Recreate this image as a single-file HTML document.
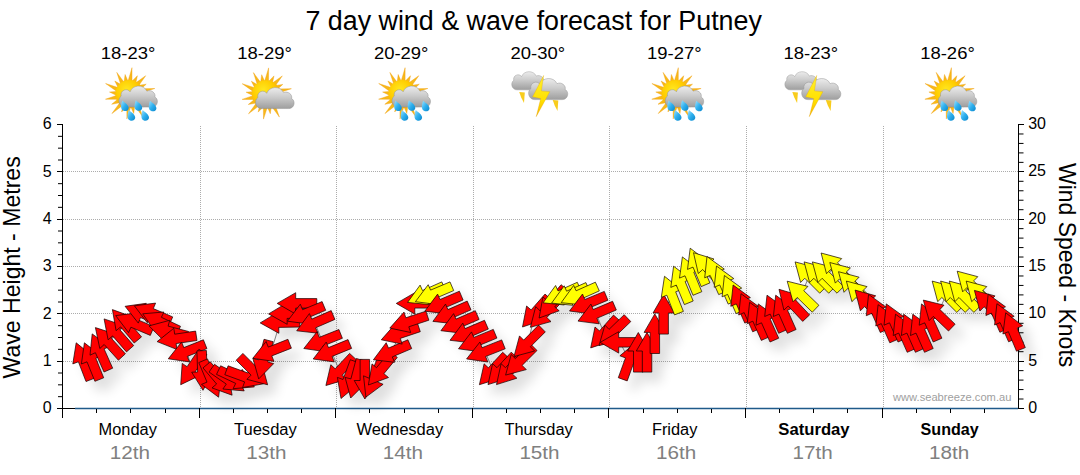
<!DOCTYPE html>
<html><head><meta charset="utf-8"><title>7 day wind &amp; wave forecast for Putney</title>
<style>
html,body{margin:0;padding:0;background:#fff;}
body{width:1080px;height:475px;overflow:hidden;font-family:"Liberation Sans",sans-serif;}
svg{display:block;}
text{font-family:"Liberation Sans",sans-serif;}
</style></head><body>
<svg width="1080" height="475" viewBox="0 0 1080 475">
<defs>
<filter id="sh" x="-5%" y="-20%" width="110%" height="150%">
<feGaussianBlur stdDeviation="6"/>
</filter>
<radialGradient id="sunG" cx="0.4" cy="0.35" r="0.7"><stop offset="0" stop-color="#ffe820"/><stop offset="0.55" stop-color="#ffcc00"/><stop offset="1" stop-color="#f6a010"/></radialGradient>
<linearGradient id="cloudG" x1="0" y1="0" x2="0" y2="1"><stop offset="0" stop-color="#ececec"/><stop offset="0.45" stop-color="#cccccc"/><stop offset="1" stop-color="#9e9e9e"/></linearGradient>
<linearGradient id="dropG" x1="0" y1="0" x2="1" y2="1"><stop offset="0" stop-color="#9fe2ff"/><stop offset="0.5" stop-color="#2fb0ee"/><stop offset="1" stop-color="#0a86cc"/></linearGradient>
<linearGradient id="boltG" x1="0" y1="0" x2="0" y2="1"><stop offset="0" stop-color="#fff030"/><stop offset="0.6" stop-color="#ffe000"/><stop offset="1" stop-color="#f8b400"/></linearGradient>
<g id="sun">
<path fill="#f8b818" stroke="#f0a010" stroke-width="0.4" d="M-1.3,-13.1 L2.6,-26.3 L2.6,-12.9 L2.8,-12.9 L8.0,-18.3 L6.5,-11.5 L6.7,-11.4 L16.3,-18.3 L9.7,-8.9 L9.9,-8.8 L16.8,-9.8 L12.0,-5.5 L12.1,-5.3 L25.4,-5.5 L13.1,-1.5 L13.1,-1.3 L20.4,2.0 L12.9,2.6 L12.9,2.8 L22.0,9.7 L11.5,6.5 L11.4,6.7 L14.6,13.0 L8.9,9.7 L8.8,9.9 L13.4,22.9 L5.5,12.0 L5.3,12.1 L4.3,19.5 L1.5,13.1 L1.3,13.1 L-2.5,24.9 L-2.6,12.9 L-2.8,12.9 L-7.8,17.9 L-6.5,11.5 L-6.7,11.4 L-17.5,19.6 L-9.7,8.9 L-9.9,8.8 L-17.7,10.3 L-12.0,5.5 L-12.1,5.3 L-23.9,5.2 L-13.1,1.5 L-13.1,1.3 L-19.9,-2.0 L-12.9,-2.6 L-12.9,-2.8 L-23.8,-10.5 L-11.5,-6.5 L-11.4,-6.7 L-14.6,-13.0 L-8.9,-9.7 L-8.8,-9.9 L-12.6,-21.6 L-5.5,-12.0 L-5.3,-12.1 L-4.3,-19.5 L-1.5,-13.1 Z"/>
<circle r="14" fill="url(#sunG)"/>
</g>
<g id="cloud">
<path fill="url(#cloudG)" stroke="#909090" stroke-width="0.5" d="M-14,9.6 C-20.5,9.6 -22.5,1 -18,-2 C-19.5,-8.5 -11,-11 -8.5,-6.5 C-6,-14 6,-15 9.5,-7.2 C14,-9.5 19.5,-5 18,-1 C22.5,1 21.5,9.6 15,9.6 Z"/>
</g>
<g id="drop"><path fill="url(#dropG)" d="M-2.9,-4.6 C-0.6,-2.6 3.9,0.2 3.5,3.4 C3.1,6.4 -1.8,6.9 -3.5,4.2 C-4.8,2 -3.9,-1.8 -2.9,-4.6 Z"/></g>
</defs>

<g stroke="#acacac" stroke-width="1" stroke-dasharray="1,1" shape-rendering="crispEdges"><line x1="200.5" y1="126" x2="200.5" y2="408" /><line x1="336.5" y1="126" x2="336.5" y2="408" /><line x1="473.5" y1="126" x2="473.5" y2="408" /><line x1="609.5" y1="126" x2="609.5" y2="408" /><line x1="746.5" y1="126" x2="746.5" y2="408" /><line x1="883.5" y1="126" x2="883.5" y2="408" /><line x1="63" y1="361.5" x2="1018" y2="361.5" /><line x1="63" y1="313.5" x2="1018" y2="313.5" /><line x1="63" y1="266.5" x2="1018" y2="266.5" /><line x1="63" y1="219.5" x2="1018" y2="219.5" /><line x1="63" y1="171.5" x2="1018" y2="171.5" /></g>
<line x1="75" y1="408.5" x2="1018" y2="408.5" stroke="#1f5a8a" stroke-width="1.3"/>
<g stroke="#000" stroke-width="1" shape-rendering="crispEdges"><line x1="62.5" y1="124" x2="62.5" y2="418" /><line x1="1018.5" y1="124" x2="1018.5" y2="409" /><line x1="57" y1="408.5" x2="75" y2="408.5" /><line x1="57" y1="408.5" x2="63" y2="408.5" /><line x1="57" y1="361.5" x2="63" y2="361.5" /><line x1="57" y1="313.5" x2="63" y2="313.5" /><line x1="57" y1="266.5" x2="63" y2="266.5" /><line x1="57" y1="219.5" x2="63" y2="219.5" /><line x1="57" y1="171.5" x2="63" y2="171.5" /><line x1="57" y1="124.5" x2="63" y2="124.5" /><line x1="1018" y1="408.5" x2="1024" y2="408.5" /><line x1="1018" y1="361.5" x2="1024" y2="361.5" /><line x1="1018" y1="313.5" x2="1024" y2="313.5" /><line x1="1018" y1="266.5" x2="1024" y2="266.5" /><line x1="1018" y1="219.5" x2="1024" y2="219.5" /><line x1="1018" y1="171.5" x2="1024" y2="171.5" /><line x1="1018" y1="124.5" x2="1024" y2="124.5" /><line x1="62.5" y1="408" x2="62.5" y2="418" /><line x1="96.5" y1="409" x2="96.5" y2="413" /><line x1="130.5" y1="409" x2="130.5" y2="413" /><line x1="165.5" y1="409" x2="165.5" y2="413" /><line x1="199.5" y1="408" x2="199.5" y2="418" /><line x1="233.5" y1="409" x2="233.5" y2="413" /><line x1="267.5" y1="409" x2="267.5" y2="413" /><line x1="301.5" y1="409" x2="301.5" y2="413" /><line x1="335.5" y1="408" x2="335.5" y2="418" /><line x1="369.5" y1="409" x2="369.5" y2="413" /><line x1="404.5" y1="409" x2="404.5" y2="413" /><line x1="438.5" y1="409" x2="438.5" y2="413" /><line x1="472.5" y1="408" x2="472.5" y2="418" /><line x1="506.5" y1="409" x2="506.5" y2="413" /><line x1="540.5" y1="409" x2="540.5" y2="413" /><line x1="574.5" y1="409" x2="574.5" y2="413" /><line x1="608.5" y1="408" x2="608.5" y2="418" /><line x1="643.5" y1="409" x2="643.5" y2="413" /><line x1="677.5" y1="409" x2="677.5" y2="413" /><line x1="711.5" y1="409" x2="711.5" y2="413" /><line x1="745.5" y1="408" x2="745.5" y2="418" /><line x1="779.5" y1="409" x2="779.5" y2="413" /><line x1="813.5" y1="409" x2="813.5" y2="413" /><line x1="847.5" y1="409" x2="847.5" y2="413" /><line x1="882.5" y1="408" x2="882.5" y2="418" /><line x1="916.5" y1="409" x2="916.5" y2="413" /><line x1="950.5" y1="409" x2="950.5" y2="413" /><line x1="984.5" y1="409" x2="984.5" y2="413" /></g>
<g stroke="#000" stroke-width="1"><line x1="58" y1="396.67" x2="62" y2="396.67" /><line x1="58" y1="384.83" x2="62" y2="384.83" /><line x1="58" y1="373.00" x2="62" y2="373.00" /><line x1="58" y1="349.33" x2="62" y2="349.33" /><line x1="58" y1="337.50" x2="62" y2="337.50" /><line x1="58" y1="325.67" x2="62" y2="325.67" /><line x1="58" y1="302.00" x2="62" y2="302.00" /><line x1="58" y1="290.17" x2="62" y2="290.17" /><line x1="58" y1="278.33" x2="62" y2="278.33" /><line x1="58" y1="254.67" x2="62" y2="254.67" /><line x1="58" y1="242.83" x2="62" y2="242.83" /><line x1="58" y1="231.00" x2="62" y2="231.00" /><line x1="58" y1="207.33" x2="62" y2="207.33" /><line x1="58" y1="195.50" x2="62" y2="195.50" /><line x1="58" y1="183.67" x2="62" y2="183.67" /><line x1="58" y1="160.00" x2="62" y2="160.00" /><line x1="58" y1="148.17" x2="62" y2="148.17" /><line x1="58" y1="136.33" x2="62" y2="136.33" /><line x1="1019" y1="399.03" x2="1023.5" y2="399.03" /><line x1="1019" y1="389.57" x2="1023.5" y2="389.57" /><line x1="1019" y1="380.10" x2="1023.5" y2="380.10" /><line x1="1019" y1="370.63" x2="1023.5" y2="370.63" /><line x1="1019" y1="351.70" x2="1023.5" y2="351.70" /><line x1="1019" y1="342.23" x2="1023.5" y2="342.23" /><line x1="1019" y1="332.77" x2="1023.5" y2="332.77" /><line x1="1019" y1="323.30" x2="1023.5" y2="323.30" /><line x1="1019" y1="304.37" x2="1023.5" y2="304.37" /><line x1="1019" y1="294.90" x2="1023.5" y2="294.90" /><line x1="1019" y1="285.43" x2="1023.5" y2="285.43" /><line x1="1019" y1="275.97" x2="1023.5" y2="275.97" /><line x1="1019" y1="257.03" x2="1023.5" y2="257.03" /><line x1="1019" y1="247.57" x2="1023.5" y2="247.57" /><line x1="1019" y1="238.10" x2="1023.5" y2="238.10" /><line x1="1019" y1="228.63" x2="1023.5" y2="228.63" /><line x1="1019" y1="209.70" x2="1023.5" y2="209.70" /><line x1="1019" y1="200.23" x2="1023.5" y2="200.23" /><line x1="1019" y1="190.77" x2="1023.5" y2="190.77" /><line x1="1019" y1="181.30" x2="1023.5" y2="181.30" /><line x1="1019" y1="162.37" x2="1023.5" y2="162.37" /><line x1="1019" y1="152.90" x2="1023.5" y2="152.90" /><line x1="1019" y1="143.43" x2="1023.5" y2="143.43" /><line x1="1019" y1="133.97" x2="1023.5" y2="133.97" /></g>
<g fill="#000" opacity="0.125" filter="url(#sh)"><polygon points="86.2,352.8 102.8,366.3 97.3,368.4 104.8,388.1 96.0,391.5 88.4,371.8 82.8,373.9"/><polygon points="94.4,352.8 111.3,366.0 105.8,368.2 113.7,387.8 104.9,391.3 97.0,371.8 91.4,374.0"/><polygon points="102.2,343.9 119.5,356.5 114.1,358.9 122.7,378.2 114.0,382.0 105.4,362.7 100.0,365.2"/><polygon points="105.4,337.6 125.7,344.2 121.3,348.2 135.4,363.8 128.4,370.2 114.2,354.5 109.8,358.5"/><polygon points="114.1,328.9 134.3,335.8 129.8,339.7 143.7,355.6 136.5,361.9 122.6,345.9 118.1,349.8"/><polygon points="122.4,319.6 142.5,326.9 137.9,330.8 151.5,346.9 144.2,353.0 130.6,336.9 126.1,340.7"/><polygon points="125.7,325.6 146.9,322.9 144.6,328.4 164.0,336.7 160.3,345.4 140.9,337.2 138.6,342.6"/><polygon points="135.1,316.3 156.3,313.3 154.1,318.8 173.6,326.7 170.1,335.5 150.5,327.6 148.3,333.1"/><polygon points="144.4,315.8 165.6,313.1 163.3,318.6 182.7,326.9 179.0,335.6 159.6,327.4 157.3,332.8"/><polygon points="152.7,323.8 173.9,322.0 171.4,327.3 190.5,336.3 186.5,344.9 167.4,336.0 164.9,341.3"/><polygon points="159.0,335.9 179.7,330.3 178.1,336.1 198.5,341.5 196.0,350.7 175.7,345.3 174.1,351.0"/><polygon points="167.1,351.6 183.8,338.3 184.7,344.2 205.6,341.1 207.0,350.5 186.1,353.6 187.0,359.5"/><polygon points="178.3,368.8 191.6,352.0 193.8,357.6 213.4,349.8 216.9,358.6 197.3,366.4 199.5,371.9"/><polygon points="190.7,394.7 192.2,373.4 197.1,376.7 208.9,359.2 216.8,364.5 205.0,382.0 209.9,385.4"/><polygon points="213.0,400.3 201.7,382.2 207.6,382.0 206.9,360.9 216.4,360.5 217.1,381.6 223.1,381.4"/><polygon points="228.6,407.2 211.5,394.4 217.0,392.1 208.8,372.6 217.5,368.9 225.7,388.3 231.2,386.0"/><polygon points="242.1,405.2 222.0,397.9 226.6,394.0 213.0,377.9 220.3,371.8 233.9,387.9 238.4,384.1"/><polygon points="254.2,400.9 232.9,399.0 236.3,394.1 219.0,382.0 224.5,374.3 241.7,386.4 245.2,381.5"/><polygon points="264.4,396.9 243.1,398.7 245.7,393.4 226.5,384.4 230.6,375.8 249.7,384.7 252.2,379.4"/><polygon points="273.6,393.8 252.6,397.5 254.6,391.9 234.8,384.7 238.1,375.8 257.9,383.0 259.9,377.4"/><polygon points="277.6,394.8 256.9,389.3 261.1,385.1 246.2,370.2 252.9,363.4 267.9,378.4 272.1,374.2"/><polygon points="268.7,388.9 262.9,368.3 268.7,369.8 274.0,349.3 283.2,351.7 277.9,372.1 283.7,373.6"/><polygon points="262.8,368.3 276.1,351.5 278.3,357.1 297.9,349.3 301.4,358.2 281.8,365.9 284.0,371.4"/><polygon points="270.2,332.9 288.5,321.9 288.6,327.9 309.7,327.5 309.9,337.0 288.8,337.4 288.9,343.3"/><polygon points="278.6,323.9 296.9,312.9 297.0,318.9 318.1,318.5 318.2,328.0 297.1,328.4 297.2,334.3"/><polygon points="287.2,313.4 305.7,302.7 305.7,308.6 326.8,308.6 326.8,318.1 305.7,318.1 305.7,324.1"/><polygon points="297.4,331.2 310.3,314.2 312.6,319.7 332.1,311.6 335.7,320.3 316.3,328.5 318.6,334.0"/><polygon points="306.7,340.8 319.4,323.6 321.8,329.1 341.2,320.6 344.9,329.4 325.6,337.8 328.0,343.2"/><polygon points="313.8,358.5 327.1,341.7 329.3,347.3 348.9,339.5 352.4,348.3 332.8,356.1 335.0,361.6"/><polygon points="323.2,369.0 336.2,352.1 338.5,357.6 358.0,349.6 361.6,358.4 342.1,366.4 344.3,371.9"/><polygon points="335.9,395.5 340.8,374.7 345.2,378.8 359.6,363.4 366.6,369.9 352.1,385.3 356.4,389.4"/><polygon points="351.0,408.5 347.4,387.4 353.0,389.5 360.3,369.7 369.2,373.0 361.9,392.8 367.4,394.8"/><polygon points="360.7,408.0 355.1,387.4 360.9,388.9 366.3,368.5 375.5,371.0 370.1,391.4 375.8,392.9"/><polygon points="374.9,409.0 364.2,390.5 370.1,390.5 370.1,369.4 379.6,369.4 379.6,390.5 385.6,390.5"/><polygon points="375.9,407.1 373.5,385.8 378.9,388.2 387.3,368.8 396.0,372.6 387.6,392.0 393.1,394.3"/><polygon points="378.4,395.0 382.0,373.9 386.5,377.7 400.0,361.4 407.3,367.4 393.9,383.7 398.5,387.5"/><polygon points="383.4,369.8 396.2,352.7 398.5,358.1 417.9,349.8 421.7,358.6 402.3,366.9 404.6,372.3"/><polygon points="391.3,349.8 405.4,333.8 407.3,339.4 427.3,332.7 430.3,341.7 410.3,348.4 412.2,354.1"/><polygon points="399.8,338.1 414.0,322.1 415.8,327.8 435.9,321.2 438.9,330.2 418.8,336.8 420.7,342.5"/><polygon points="406.3,313.4 424.8,302.7 424.8,308.6 445.9,308.6 445.9,318.1 424.8,318.1 424.8,324.1"/><polygon points="417.6,312.4 430.1,295.1 432.5,300.5 451.8,291.9 455.7,300.6 436.4,309.2 438.8,314.6"/><polygon points="425.4,311.7 438.2,294.7 440.6,300.1 460.0,291.9 463.7,300.6 444.3,308.9 446.6,314.4"/><polygon points="434.8,321.2 447.6,304.1 450.0,309.5 469.4,301.2 473.1,310.0 453.7,318.3 456.1,323.7"/><polygon points="442.9,331.4 455.5,314.1 457.9,319.6 477.2,311.1 481.0,319.8 461.7,328.3 464.1,333.7"/><polygon points="450.9,340.7 463.6,323.6 466.0,329.1 485.3,320.7 489.1,329.4 469.7,337.8 472.1,343.2"/><polygon points="460.0,350.3 472.8,333.2 475.1,338.6 494.5,330.3 498.3,339.1 478.9,347.4 481.2,352.8"/><polygon points="468.5,358.8 481.5,341.9 483.8,347.4 503.3,339.4 506.9,348.1 487.4,356.2 489.7,361.7"/><polygon points="476.6,368.9 489.9,352.1 492.1,357.7 511.7,349.9 515.2,358.8 495.6,366.5 497.8,372.0"/><polygon points="489.4,394.7 494.1,373.8 498.4,377.8 512.7,362.3 519.7,368.8 505.4,384.3 509.8,388.3"/><polygon points="498.0,394.6 502.6,373.7 507.0,377.7 521.2,362.2 528.2,368.6 514.0,384.2 518.4,388.2"/><polygon points="506.5,394.6 511.1,373.7 515.5,377.7 529.8,362.2 536.8,368.6 522.5,384.2 526.9,388.2"/><polygon points="515.6,385.1 521.2,364.5 525.4,368.7 540.3,353.7 547.0,360.5 532.1,375.4 536.3,379.6"/><polygon points="524.0,366.5 529.5,345.9 533.7,350.1 548.6,335.1 555.3,341.9 540.4,356.8 544.6,361.0"/><polygon points="532.5,337.0 536.6,316.0 541.1,319.9 555.0,304.1 562.1,310.3 548.2,326.2 552.7,330.1"/><polygon points="540.4,337.3 545.7,316.6 550.0,320.8 564.8,305.7 571.5,312.4 556.8,327.5 561.0,331.6"/><polygon points="549.1,328.0 552.9,307.0 557.5,310.8 571.1,294.7 578.4,300.9 564.7,317.0 569.2,320.8"/><polygon points="553.1,312.8 565.6,295.5 568.0,300.9 587.3,292.3 591.2,301.0 571.9,309.6 574.3,315.0"/><polygon points="561.6,313.1 574.2,295.8 576.6,301.2 595.9,292.6 599.7,301.3 580.5,309.9 582.9,315.3"/><polygon points="571.2,312.7 583.7,295.4 586.1,300.8 605.4,292.2 609.3,300.9 590.0,309.5 592.4,314.9"/><polygon points="579.5,321.0 592.5,304.0 594.8,309.5 614.3,301.4 617.9,310.2 598.4,318.3 600.7,323.8"/><polygon points="588.0,331.1 600.9,314.1 603.2,319.5 622.6,311.3 626.3,320.0 606.9,328.3 609.2,333.8"/><polygon points="600.7,357.9 605.0,337.0 609.5,340.9 623.5,325.1 630.6,331.4 616.6,347.2 621.0,351.2"/><polygon points="609.0,355.6 614.9,335.1 619.0,339.4 634.2,324.7 640.8,331.6 625.6,346.2 629.7,350.5"/><polygon points="610.2,352.4 628.7,341.7 628.7,347.6 649.8,347.6 649.8,357.1 628.7,357.1 628.7,363.1"/><polygon points="646.3,352.1 650.0,373.1 644.4,371.1 637.2,390.9 628.3,387.7 635.5,367.9 629.9,365.8"/><polygon points="648.3,342.5 659.0,361.0 653.0,361.0 653.0,382.1 643.5,382.1 643.5,361.0 637.6,361.0"/><polygon points="657.0,342.5 667.7,361.0 661.8,361.0 661.8,382.1 652.3,382.1 652.3,361.0 646.3,361.0"/><polygon points="664.8,323.9 675.5,342.4 669.6,342.4 669.6,363.5 660.1,363.5 660.1,342.4 654.1,342.4"/><polygon points="673.7,304.5 684.4,323.0 678.4,323.0 678.4,344.1 668.9,344.1 668.9,323.0 663.0,323.0"/><polygon points="674.5,286.3 691.2,299.6 685.7,301.8 693.4,321.4 684.5,324.9 676.8,305.2 671.3,307.4"/><polygon points="683.6,276.2 700.6,289.2 695.1,291.5 703.2,311.0 694.4,314.6 686.3,295.1 680.8,297.4"/><polygon points="692.4,266.9 709.3,279.9 703.8,282.2 711.8,301.7 703.0,305.3 695.0,285.8 689.5,288.1"/><polygon points="700.2,258.2 717.2,271.2 711.7,273.5 719.9,292.9 711.2,296.6 703.0,277.1 697.5,279.4"/><polygon points="703.5,262.7 724.0,269.0 719.6,273.0 734.0,288.4 727.0,294.9 712.7,279.5 708.3,283.5"/><polygon points="717.0,266.5 734.3,279.1 728.8,281.5 737.4,300.8 728.7,304.6 720.2,285.4 714.7,287.8"/><polygon points="726.5,276.0 743.8,288.6 738.3,291.0 746.9,310.3 738.2,314.1 729.7,294.9 724.2,297.3"/><polygon points="734.4,285.5 751.7,298.1 746.2,300.5 754.8,319.8 746.1,323.6 737.6,304.4 732.1,306.8"/><polygon points="743.1,295.0 760.4,307.6 754.9,310.0 763.5,329.3 754.8,333.1 746.3,313.9 740.8,316.3"/><polygon points="751.0,303.7 768.3,316.3 762.8,318.7 771.4,338.0 762.7,341.8 754.2,322.6 748.7,325.0"/><polygon points="759.6,312.3 776.9,324.9 771.4,327.3 780.0,346.6 771.3,350.4 762.8,331.2 757.3,333.6"/><polygon points="768.3,313.9 785.6,326.5 780.1,328.9 788.7,348.2 780.0,352.0 771.5,332.8 766.0,335.2"/><polygon points="777.0,305.2 794.3,317.8 788.8,320.2 797.4,339.5 788.7,343.3 780.2,324.1 774.7,326.5"/><polygon points="785.7,305.2 803.0,317.8 797.5,320.2 806.1,339.5 797.4,343.3 788.9,324.1 783.4,326.5"/><polygon points="789.0,299.3 809.4,305.4 805.1,309.5 819.6,324.9 812.7,331.4 798.2,316.0 793.9,320.1"/><polygon points="797.2,291.2 817.9,296.4 813.8,300.7 828.9,315.3 822.3,322.2 807.2,307.5 803.0,311.8"/><polygon points="805.1,271.9 825.7,277.4 821.5,281.6 836.4,296.5 829.7,303.2 814.8,288.3 810.6,292.5"/><polygon points="814.1,271.9 834.7,277.4 830.5,281.6 845.4,296.5 838.7,303.2 823.8,288.3 819.6,292.5"/><polygon points="822.4,271.9 843.0,277.4 838.8,281.6 853.7,296.5 847.0,303.2 832.1,288.3 827.9,292.5"/><polygon points="831.1,263.0 851.7,268.6 847.5,272.8 862.3,287.8 855.6,294.5 840.7,279.5 836.5,283.7"/><polygon points="839.8,272.5 860.4,278.0 856.2,282.2 871.1,297.1 864.4,303.8 849.5,288.9 845.3,293.1"/><polygon points="848.5,281.7 869.1,287.2 864.9,291.4 879.8,306.3 873.1,313.0 858.2,298.1 854.0,302.3"/><polygon points="856.4,291.1 877.0,296.6 872.8,300.8 887.7,315.7 881.0,322.4 866.1,307.5 861.9,311.7"/><polygon points="865.1,300.1 885.7,305.8 881.4,310.0 896.2,325.1 889.4,331.7 874.6,316.6 870.4,320.8"/><polygon points="878.6,304.4 895.9,317.0 890.4,319.4 899.0,338.7 890.3,342.5 881.8,323.3 876.3,325.7"/><polygon points="888.1,314.7 905.4,327.3 899.9,329.7 908.5,349.0 899.8,352.8 891.3,333.6 885.8,336.0"/><polygon points="896.3,313.9 913.6,326.5 908.1,328.9 916.7,348.2 908.0,352.0 899.5,332.8 894.0,335.2"/><polygon points="905.5,324.2 922.8,336.8 917.3,339.2 925.9,358.5 917.2,362.3 908.7,343.1 903.2,345.5"/><polygon points="913.7,324.2 931.0,336.8 925.5,339.2 934.1,358.5 925.4,362.3 916.9,343.1 911.4,345.5"/><polygon points="922.8,324.2 940.1,336.8 934.6,339.2 943.2,358.5 934.5,362.3 926.0,343.1 920.5,345.5"/><polygon points="931.5,313.9 948.8,326.5 943.3,328.9 951.9,348.2 943.2,352.0 934.7,332.8 929.2,335.2"/><polygon points="933.3,310.1 954.0,315.2 949.9,319.5 965.1,334.2 958.5,341.0 943.3,326.4 939.2,330.6"/><polygon points="942.2,291.1 962.8,296.6 958.6,300.8 973.5,315.7 966.8,322.4 951.9,307.5 947.7,311.7"/><polygon points="950.6,291.1 971.2,296.6 967.0,300.8 981.9,315.7 975.2,322.4 960.3,307.5 956.1,311.7"/><polygon points="959.3,291.1 979.9,296.6 975.7,300.8 990.6,315.7 983.9,322.4 969.0,307.5 964.8,311.7"/><polygon points="967.2,281.2 987.8,286.7 983.6,290.9 998.5,305.8 991.8,312.5 976.9,297.6 972.7,301.8"/><polygon points="976.2,291.1 996.8,296.6 992.6,300.8 1007.5,315.7 1000.8,322.4 985.9,307.5 981.7,311.7"/><polygon points="984.4,300.4 1005.0,305.9 1000.8,310.1 1015.7,325.0 1009.0,331.7 994.1,316.8 989.9,321.0"/><polygon points="998.2,304.2 1015.5,316.8 1010.0,319.2 1018.6,338.5 1009.9,342.3 1001.4,323.1 995.9,325.5"/><polygon points="1006.9,313.7 1024.2,326.3 1018.7,328.7 1027.3,348.0 1018.6,351.8 1010.1,332.6 1004.6,335.0"/><polygon points="1015.7,322.8 1032.7,335.8 1027.2,338.1 1035.3,357.6 1026.5,361.2 1018.4,341.7 1012.9,344.0"/></g>
<polyline fill="none" stroke="#808080" stroke-width="1" points="83.3,361.3 91.8,361.2 100.3,352.0 108.6,342.3 117.1,333.8 125.1,324.8 134.0,323.3 143.5,313.7 152.7,313.5 160.6,322.2 168.1,331.0 176.7,338.7 186.7,351.5 191.8,368.3 202.3,370.5 210.9,379.0 219.4,380.0 227.9,379.5 236.5,378.5 245.0,377.0 253.6,370.8 263.6,359.7 271.3,351.0 280.0,322.6 288.4,313.6 297.0,303.4 305.6,313.6 314.9,322.9 322.2,341.2 331.5,351.5 339.5,371.1 347.9,379.9 355.8,378.9 364.9,379.2 373.8,378.9 381.0,369.7 391.6,352.0 400.0,333.5 408.6,321.9 416.1,303.4 425.7,294.3 433.6,294.0 443.0,303.4 451.0,313.4 459.0,322.9 468.2,332.5 476.8,341.3 485.1,351.6 492.8,370.1 501.4,370.0 509.9,370.0 519.6,361.1 528.0,342.5 535.5,312.1 544.3,313.2 551.9,302.9 561.2,294.7 569.7,295.0 579.3,294.6 587.8,303.4 596.2,313.4 603.9,333.1 613.2,331.9 620.0,342.4 629.5,360.7 638.3,352.3 647.0,352.3 654.8,333.7 663.7,314.3 671.7,294.7 681.2,284.5 689.9,275.2 697.9,266.5 707.0,267.2 715.0,274.6 724.5,284.1 732.4,293.6 741.1,303.1 749.0,311.8 757.6,320.4 766.3,322.0 775.0,313.3 783.7,313.3 792.6,303.7 801.4,295.0 809.1,275.9 818.1,275.9 826.4,275.9 835.0,267.1 843.8,276.5 852.5,285.7 860.4,295.1 868.9,304.2 876.6,312.5 886.1,322.8 894.3,322.0 903.5,332.3 911.7,332.3 920.8,332.3 929.5,322.0 937.5,313.8 946.2,295.1 954.6,295.1 963.3,295.1 971.2,285.2 980.2,295.1 988.4,304.4 996.2,312.3 1004.9,321.8 1013.3,331.1"/>
<g stroke="#100000" stroke-width="0.7" stroke-linejoin="miter"><polygon fill="#ff0000" points="76.2,342.8 92.8,356.3 87.3,358.4 94.8,378.1 86.0,381.5 78.4,361.8 72.8,363.9"/><polygon fill="#ff0000" points="84.4,342.8 101.3,356.0 95.8,358.2 103.7,377.8 94.9,381.3 87.0,361.8 81.4,364.0"/><polygon fill="#ff0000" points="92.2,333.9 109.5,346.5 104.1,348.9 112.7,368.2 104.0,372.0 95.4,352.7 90.0,355.2"/><polygon fill="#ff0000" points="95.4,327.6 115.7,334.2 111.3,338.2 125.4,353.8 118.4,360.2 104.2,344.5 99.8,348.5"/><polygon fill="#ff0000" points="104.1,318.9 124.3,325.8 119.8,329.7 133.7,345.6 126.5,351.9 112.6,335.9 108.1,339.8"/><polygon fill="#ff0000" points="112.4,309.6 132.5,316.9 127.9,320.8 141.5,336.9 134.2,343.0 120.6,326.9 116.1,330.7"/><polygon fill="#ff0000" points="115.7,315.6 136.9,312.9 134.6,318.4 154.0,326.7 150.3,335.4 130.9,327.2 128.6,332.6"/><polygon fill="#ff0000" points="125.1,306.3 146.3,303.3 144.1,308.8 163.6,316.7 160.1,325.5 140.5,317.6 138.3,323.1"/><polygon fill="#ff0000" points="134.4,305.8 155.6,303.1 153.3,308.6 172.7,316.9 169.0,325.6 149.6,317.4 147.3,322.8"/><polygon fill="#ff0000" points="142.7,313.8 163.9,312.0 161.4,317.3 180.5,326.3 176.5,334.9 157.4,326.0 154.9,331.3"/><polygon fill="#ff0000" points="149.0,325.9 169.7,320.3 168.1,326.1 188.5,331.5 186.0,340.7 165.7,335.3 164.1,341.0"/><polygon fill="#ff0000" points="157.1,341.6 173.8,328.3 174.7,334.2 195.6,331.1 197.0,340.5 176.1,343.6 177.0,349.5"/><polygon fill="#ff0000" points="168.3,358.8 181.6,342.0 183.8,347.6 203.4,339.8 206.9,348.6 187.3,356.4 189.5,361.9"/><polygon fill="#ff0000" points="180.7,384.7 182.2,363.4 187.1,366.7 198.9,349.2 206.8,354.5 195.0,372.0 199.9,375.4"/><polygon fill="#ff0000" points="203.0,390.3 191.7,372.2 197.6,372.0 196.9,350.9 206.4,350.5 207.1,371.6 213.1,371.4"/><polygon fill="#ff0000" points="218.6,397.2 201.5,384.4 207.0,382.1 198.8,362.6 207.5,358.9 215.7,378.3 221.2,376.0"/><polygon fill="#ff0000" points="232.1,395.2 212.0,387.9 216.6,384.0 203.0,367.9 210.3,361.8 223.9,377.9 228.4,374.1"/><polygon fill="#ff0000" points="244.2,390.9 222.9,389.0 226.3,384.1 209.0,372.0 214.5,364.3 231.7,376.4 235.2,371.5"/><polygon fill="#ff0000" points="254.4,386.9 233.1,388.7 235.7,383.4 216.5,374.4 220.6,365.8 239.7,374.7 242.2,369.4"/><polygon fill="#ff0000" points="263.6,383.8 242.6,387.5 244.6,381.9 224.8,374.7 228.1,365.8 247.9,373.0 249.9,367.4"/><polygon fill="#ff0000" points="267.6,384.8 246.9,379.3 251.1,375.1 236.2,360.2 242.9,353.4 257.9,368.4 262.1,364.2"/><polygon fill="#ff0000" points="258.7,378.9 252.9,358.3 258.7,359.8 264.0,339.3 273.2,341.7 267.9,362.1 273.7,363.6"/><polygon fill="#ff0000" points="252.8,358.3 266.1,341.5 268.3,347.1 287.9,339.3 291.4,348.2 271.8,355.9 274.0,361.4"/><polygon fill="#ff0000" points="260.2,322.9 278.5,311.9 278.6,317.9 299.7,317.5 299.9,327.0 278.8,327.4 278.9,333.3"/><polygon fill="#ff0000" points="268.6,313.9 286.9,302.9 287.0,308.9 308.1,308.5 308.2,318.0 287.1,318.4 287.2,324.3"/><polygon fill="#ff0000" points="277.2,303.4 295.7,292.7 295.7,298.6 316.8,298.6 316.8,308.1 295.7,308.1 295.7,314.1"/><polygon fill="#ff0000" points="287.4,321.2 300.3,304.2 302.6,309.7 322.1,301.6 325.7,310.3 306.3,318.5 308.6,324.0"/><polygon fill="#ff0000" points="296.7,330.8 309.4,313.6 311.8,319.1 331.2,310.6 334.9,319.4 315.6,327.8 318.0,333.2"/><polygon fill="#ff0000" points="303.8,348.5 317.1,331.7 319.3,337.3 338.9,329.5 342.4,338.3 322.8,346.1 325.0,351.6"/><polygon fill="#ff0000" points="313.2,359.0 326.2,342.1 328.5,347.6 348.0,339.6 351.6,348.4 332.1,356.4 334.3,361.9"/><polygon fill="#ff0000" points="325.9,385.5 330.8,364.7 335.2,368.8 349.6,353.4 356.6,359.9 342.1,375.3 346.4,379.4"/><polygon fill="#ff0000" points="341.0,398.5 337.4,377.4 343.0,379.5 350.3,359.7 359.2,363.0 351.9,382.8 357.4,384.8"/><polygon fill="#ff0000" points="350.7,398.0 345.1,377.4 350.9,378.9 356.3,358.5 365.5,361.0 360.1,381.4 365.8,382.9"/><polygon fill="#ff0000" points="364.9,399.0 354.2,380.5 360.1,380.5 360.1,359.4 369.6,359.4 369.6,380.5 375.6,380.5"/><polygon fill="#ff0000" points="365.9,397.1 363.5,375.8 368.9,378.2 377.3,358.8 386.0,362.6 377.6,382.0 383.1,384.3"/><polygon fill="#ff0000" points="368.4,385.0 372.0,363.9 376.5,367.7 390.0,351.4 397.3,357.4 383.9,373.7 388.5,377.5"/><polygon fill="#ff0000" points="373.4,359.8 386.2,342.7 388.5,348.1 407.9,339.8 411.7,348.6 392.3,356.9 394.6,362.3"/><polygon fill="#ff0000" points="381.3,339.8 395.4,323.8 397.3,329.4 417.3,322.7 420.3,331.7 400.3,338.4 402.2,344.1"/><polygon fill="#ff0000" points="389.8,328.1 404.0,312.1 405.8,317.8 425.9,311.2 428.9,320.2 408.8,326.8 410.7,332.5"/><polygon fill="#ff0000" points="396.3,303.4 414.8,292.7 414.8,298.6 435.9,298.6 435.9,308.1 414.8,308.1 414.8,314.1"/><polygon fill="#ffff00" points="407.6,302.4 420.1,285.1 422.5,290.5 441.8,281.9 445.7,290.6 426.4,299.2 428.8,304.6"/><polygon fill="#ffff00" points="415.4,301.7 428.2,284.7 430.6,290.1 450.0,281.9 453.7,290.6 434.3,298.9 436.6,304.4"/><polygon fill="#ff0000" points="424.8,311.2 437.6,294.1 440.0,299.5 459.4,291.2 463.1,300.0 443.7,308.3 446.1,313.7"/><polygon fill="#ff0000" points="432.9,321.4 445.5,304.1 447.9,309.6 467.2,301.1 471.0,309.8 451.7,318.3 454.1,323.7"/><polygon fill="#ff0000" points="440.9,330.7 453.6,313.6 456.0,319.1 475.3,310.7 479.1,319.4 459.7,327.8 462.1,333.2"/><polygon fill="#ff0000" points="450.0,340.3 462.8,323.2 465.1,328.6 484.5,320.3 488.3,329.1 468.9,337.4 471.2,342.8"/><polygon fill="#ff0000" points="458.5,348.8 471.5,331.9 473.8,337.4 493.3,329.4 496.9,338.1 477.4,346.2 479.7,351.7"/><polygon fill="#ff0000" points="466.6,358.9 479.9,342.1 482.1,347.7 501.7,339.9 505.2,348.8 485.6,356.5 487.8,362.0"/><polygon fill="#ff0000" points="479.4,384.7 484.1,363.8 488.4,367.8 502.7,352.3 509.7,358.8 495.4,374.3 499.8,378.3"/><polygon fill="#ff0000" points="488.0,384.6 492.6,363.7 497.0,367.7 511.2,352.2 518.2,358.6 504.0,374.2 508.4,378.2"/><polygon fill="#ff0000" points="496.5,384.6 501.1,363.7 505.5,367.7 519.8,352.2 526.8,358.6 512.5,374.2 516.9,378.2"/><polygon fill="#ff0000" points="505.6,375.1 511.2,354.5 515.4,358.7 530.3,343.7 537.0,350.5 522.1,365.4 526.3,369.6"/><polygon fill="#ff0000" points="514.0,356.5 519.5,335.9 523.7,340.1 538.6,325.1 545.3,331.9 530.4,346.8 534.6,351.0"/><polygon fill="#ff0000" points="522.5,327.0 526.6,306.0 531.1,309.9 545.0,294.1 552.1,300.3 538.2,316.2 542.7,320.1"/><polygon fill="#ff0000" points="530.4,327.3 535.7,306.6 540.0,310.8 554.8,295.7 561.5,302.4 546.8,317.5 551.0,321.6"/><polygon fill="#ff0000" points="539.1,318.0 542.9,297.0 547.5,300.8 561.1,284.7 568.4,290.9 554.7,307.0 559.2,310.8"/><polygon fill="#ffff00" points="543.1,302.8 555.6,285.5 558.0,290.9 577.3,282.3 581.2,291.0 561.9,299.6 564.3,305.0"/><polygon fill="#ffff00" points="551.6,303.1 564.2,285.8 566.6,291.2 585.9,282.6 589.7,291.3 570.5,299.9 572.9,305.3"/><polygon fill="#ffff00" points="561.2,302.7 573.7,285.4 576.1,290.8 595.4,282.2 599.3,290.9 580.0,299.5 582.4,304.9"/><polygon fill="#ff0000" points="569.5,311.0 582.5,294.0 584.8,299.5 604.3,291.4 607.9,300.2 588.4,308.3 590.7,313.8"/><polygon fill="#ff0000" points="578.0,321.1 590.9,304.1 593.2,309.5 612.6,301.3 616.3,310.0 596.9,318.3 599.2,323.8"/><polygon fill="#ff0000" points="590.7,347.9 595.0,327.0 599.5,330.9 613.5,315.1 620.6,321.4 606.6,337.2 611.0,341.2"/><polygon fill="#ff0000" points="599.0,345.6 604.9,325.1 609.0,329.4 624.2,314.7 630.8,321.6 615.6,336.2 619.7,340.5"/><polygon fill="#ff0000" points="600.2,342.4 618.7,331.7 618.7,337.6 639.8,337.6 639.8,347.1 618.7,347.1 618.7,353.1"/><polygon fill="#ff0000" points="636.3,342.1 640.0,363.1 634.4,361.1 627.2,380.9 618.3,377.7 625.5,357.9 619.9,355.8"/><polygon fill="#ff0000" points="638.3,332.5 649.0,351.0 643.0,351.0 643.0,372.1 633.5,372.1 633.5,351.0 627.6,351.0"/><polygon fill="#ff0000" points="647.0,332.5 657.7,351.0 651.8,351.0 651.8,372.1 642.3,372.1 642.3,351.0 636.3,351.0"/><polygon fill="#ff0000" points="654.8,313.9 665.5,332.4 659.6,332.4 659.6,353.5 650.1,353.5 650.1,332.4 644.1,332.4"/><polygon fill="#ff0000" points="663.7,294.5 674.4,313.0 668.4,313.0 668.4,334.1 658.9,334.1 658.9,313.0 653.0,313.0"/><polygon fill="#ffff00" points="664.5,276.3 681.2,289.6 675.7,291.8 683.4,311.4 674.5,314.9 666.8,295.2 661.3,297.4"/><polygon fill="#ffff00" points="673.6,266.2 690.6,279.2 685.1,281.5 693.2,301.0 684.4,304.6 676.3,285.1 670.8,287.4"/><polygon fill="#ffff00" points="682.4,256.9 699.3,269.9 693.8,272.2 701.8,291.7 693.0,295.3 685.0,275.8 679.5,278.1"/><polygon fill="#ffff00" points="690.2,248.2 707.2,261.2 701.7,263.5 709.9,282.9 701.2,286.6 693.0,267.1 687.5,269.4"/><polygon fill="#ffff00" points="693.5,252.7 714.0,259.0 709.6,263.0 724.0,278.4 717.0,284.9 702.7,269.5 698.3,273.5"/><polygon fill="#ffff00" points="707.0,256.5 724.3,269.1 718.8,271.5 727.4,290.8 718.7,294.6 710.2,275.4 704.7,277.8"/><polygon fill="#ffff00" points="716.5,266.0 733.8,278.6 728.3,281.0 736.9,300.3 728.2,304.1 719.7,284.9 714.2,287.3"/><polygon fill="#ffff00" points="724.4,275.5 741.7,288.1 736.2,290.5 744.8,309.8 736.1,313.6 727.6,294.4 722.1,296.8"/><polygon fill="#ff0000" points="733.1,285.0 750.4,297.6 744.9,300.0 753.5,319.3 744.8,323.1 736.3,303.9 730.8,306.3"/><polygon fill="#ff0000" points="741.0,293.7 758.3,306.3 752.8,308.7 761.4,328.0 752.7,331.8 744.2,312.6 738.7,315.0"/><polygon fill="#ff0000" points="749.6,302.3 766.9,314.9 761.4,317.3 770.0,336.6 761.3,340.4 752.8,321.2 747.3,323.6"/><polygon fill="#ff0000" points="758.3,303.9 775.6,316.5 770.1,318.9 778.7,338.2 770.0,342.0 761.5,322.8 756.0,325.2"/><polygon fill="#ff0000" points="767.0,295.2 784.3,307.8 778.8,310.2 787.4,329.5 778.7,333.3 770.2,314.1 764.7,316.5"/><polygon fill="#ff0000" points="775.7,295.2 793.0,307.8 787.5,310.2 796.1,329.5 787.4,333.3 778.9,314.1 773.4,316.5"/><polygon fill="#ff0000" points="779.0,289.3 799.4,295.4 795.1,299.5 809.6,314.9 802.7,321.4 788.2,306.0 783.9,310.1"/><polygon fill="#ffff00" points="787.2,281.2 807.9,286.4 803.8,290.7 818.9,305.3 812.3,312.2 797.2,297.5 793.0,301.8"/><polygon fill="#ffff00" points="795.1,261.9 815.7,267.4 811.5,271.6 826.4,286.5 819.7,293.2 804.8,278.3 800.6,282.5"/><polygon fill="#ffff00" points="804.1,261.9 824.7,267.4 820.5,271.6 835.4,286.5 828.7,293.2 813.8,278.3 809.6,282.5"/><polygon fill="#ffff00" points="812.4,261.9 833.0,267.4 828.8,271.6 843.7,286.5 837.0,293.2 822.1,278.3 817.9,282.5"/><polygon fill="#ffff00" points="821.1,253.0 841.7,258.6 837.5,262.8 852.3,277.8 845.6,284.5 830.7,269.5 826.5,273.7"/><polygon fill="#ffff00" points="829.8,262.5 850.4,268.0 846.2,272.2 861.1,287.1 854.4,293.8 839.5,278.9 835.3,283.1"/><polygon fill="#ffff00" points="838.5,271.7 859.1,277.2 854.9,281.4 869.8,296.3 863.1,303.0 848.2,288.1 844.0,292.3"/><polygon fill="#ffff00" points="846.4,281.1 867.0,286.6 862.8,290.8 877.7,305.7 871.0,312.4 856.1,297.5 851.9,301.7"/><polygon fill="#ff0000" points="855.1,290.1 875.7,295.8 871.4,300.0 886.2,315.1 879.4,321.7 864.6,306.6 860.4,310.8"/><polygon fill="#ff0000" points="868.6,294.4 885.9,307.0 880.4,309.4 889.0,328.7 880.3,332.5 871.8,313.3 866.3,315.7"/><polygon fill="#ff0000" points="878.1,304.7 895.4,317.3 889.9,319.7 898.5,339.0 889.8,342.8 881.3,323.6 875.8,326.0"/><polygon fill="#ff0000" points="886.3,303.9 903.6,316.5 898.1,318.9 906.7,338.2 898.0,342.0 889.5,322.8 884.0,325.2"/><polygon fill="#ff0000" points="895.5,314.2 912.8,326.8 907.3,329.2 915.9,348.5 907.2,352.3 898.7,333.1 893.2,335.5"/><polygon fill="#ff0000" points="903.7,314.2 921.0,326.8 915.5,329.2 924.1,348.5 915.4,352.3 906.9,333.1 901.4,335.5"/><polygon fill="#ff0000" points="912.8,314.2 930.1,326.8 924.6,329.2 933.2,348.5 924.5,352.3 916.0,333.1 910.5,335.5"/><polygon fill="#ff0000" points="921.5,303.9 938.8,316.5 933.3,318.9 941.9,338.2 933.2,342.0 924.7,322.8 919.2,325.2"/><polygon fill="#ff0000" points="923.3,300.1 944.0,305.2 939.9,309.5 955.1,324.2 948.5,331.0 933.3,316.4 929.2,320.6"/><polygon fill="#ffff00" points="932.2,281.1 952.8,286.6 948.6,290.8 963.5,305.7 956.8,312.4 941.9,297.5 937.7,301.7"/><polygon fill="#ffff00" points="940.6,281.1 961.2,286.6 957.0,290.8 971.9,305.7 965.2,312.4 950.3,297.5 946.1,301.7"/><polygon fill="#ffff00" points="949.3,281.1 969.9,286.6 965.7,290.8 980.6,305.7 973.9,312.4 959.0,297.5 954.8,301.7"/><polygon fill="#ffff00" points="957.2,271.2 977.8,276.7 973.6,280.9 988.5,295.8 981.8,302.5 966.9,287.6 962.7,291.8"/><polygon fill="#ffff00" points="966.2,281.1 986.8,286.6 982.6,290.8 997.5,305.7 990.8,312.4 975.9,297.5 971.7,301.7"/><polygon fill="#ff0000" points="974.4,290.4 995.0,295.9 990.8,300.1 1005.7,315.0 999.0,321.7 984.1,306.8 979.9,311.0"/><polygon fill="#ff0000" points="988.2,294.2 1005.5,306.8 1000.0,309.2 1008.6,328.5 999.9,332.3 991.4,313.1 985.9,315.5"/><polygon fill="#ff0000" points="996.9,303.7 1014.2,316.3 1008.7,318.7 1017.3,338.0 1008.6,341.8 1000.1,322.6 994.6,325.0"/><polygon fill="#ff0000" points="1005.7,312.8 1022.7,325.8 1017.2,328.1 1025.3,347.6 1016.5,351.2 1008.4,331.7 1002.9,334.0"/></g>
<text x="51.6" y="413.2" text-anchor="end" font-size="16">0</text><text x="51.6" y="365.9" text-anchor="end" font-size="16">1</text><text x="51.6" y="318.5" text-anchor="end" font-size="16">2</text><text x="51.6" y="271.2" text-anchor="end" font-size="16">3</text><text x="51.6" y="223.9" text-anchor="end" font-size="16">4</text><text x="51.6" y="176.5" text-anchor="end" font-size="16">5</text><text x="51.6" y="129.2" text-anchor="end" font-size="16">6</text><text x="1028.2" y="412.9" font-size="16">0</text><text x="1028.2" y="365.6" font-size="16">5</text><text x="1028.2" y="318.2" font-size="16">10</text><text x="1028.2" y="270.9" font-size="16">15</text><text x="1028.2" y="223.6" font-size="16">20</text><text x="1028.2" y="176.2" font-size="16">25</text><text x="1028.2" y="128.9" font-size="16">30</text>
<text transform="translate(20.4,267.4) rotate(-90)" text-anchor="middle" font-size="24" textLength="222.2" lengthAdjust="spacingAndGlyphs">Wave Height - Metres</text>
<text transform="translate(1059.1,265.1) rotate(90)" text-anchor="middle" font-size="24" textLength="204.3" lengthAdjust="spacingAndGlyphs">Wind Speed - Knots</text>
<text x="305.4" y="29.5" font-size="27.7" textLength="456.5" lengthAdjust="spacingAndGlyphs">7 day wind &amp; wave forecast for Putney</text>
<text x="100.8" y="59.1" font-size="16.8" textLength="54.6" lengthAdjust="spacingAndGlyphs">18-23°</text>
<text x="98.6" y="435.3" font-size="16" textLength="58.3" lengthAdjust="spacingAndGlyphs">Monday</text>
<text x="109.7" y="458.6" font-size="17.6" fill="#808080" textLength="40.2" lengthAdjust="spacingAndGlyphs">12th</text>
<text x="237.3" y="59.1" font-size="16.8" textLength="54.6" lengthAdjust="spacingAndGlyphs">18-29°</text>
<text x="234.0" y="435.3" font-size="16" textLength="62.8" lengthAdjust="spacingAndGlyphs">Tuesday</text>
<text x="246.3" y="458.6" font-size="17.6" fill="#808080" textLength="40.2" lengthAdjust="spacingAndGlyphs">13th</text>
<text x="373.9" y="59.1" font-size="16.8" textLength="54.6" lengthAdjust="spacingAndGlyphs">20-29°</text>
<text x="356.4" y="435.3" font-size="16" textLength="86.8" lengthAdjust="spacingAndGlyphs">Wednesday</text>
<text x="382.8" y="458.6" font-size="17.6" fill="#808080" textLength="40.2" lengthAdjust="spacingAndGlyphs">14th</text>
<text x="510.5" y="59.1" font-size="16.8" textLength="54.6" lengthAdjust="spacingAndGlyphs">20-30°</text>
<text x="504.4" y="435.3" font-size="16" textLength="68.3" lengthAdjust="spacingAndGlyphs">Thursday</text>
<text x="519.4" y="458.6" font-size="17.6" fill="#808080" textLength="40.2" lengthAdjust="spacingAndGlyphs">15th</text>
<text x="647.0" y="59.1" font-size="16.8" textLength="54.6" lengthAdjust="spacingAndGlyphs">19-27°</text>
<text x="651.9" y="435.3" font-size="16" textLength="45.5" lengthAdjust="spacingAndGlyphs">Friday</text>
<text x="656.0" y="458.6" font-size="17.6" fill="#808080" textLength="40.2" lengthAdjust="spacingAndGlyphs">16th</text>
<text x="783.6" y="59.1" font-size="16.8" textLength="54.6" lengthAdjust="spacingAndGlyphs">18-23°</text>
<text x="778.3" y="435.3" font-size="16" font-weight="bold" textLength="71.3" lengthAdjust="spacingAndGlyphs">Saturday</text>
<text x="792.5" y="458.6" font-size="17.6" fill="#808080" textLength="40.2" lengthAdjust="spacingAndGlyphs">17th</text>
<text x="920.2" y="59.1" font-size="16.8" textLength="54.6" lengthAdjust="spacingAndGlyphs">18-26°</text>
<text x="920.6" y="435.3" font-size="16" font-weight="bold" textLength="58.1" lengthAdjust="spacingAndGlyphs">Sunday</text>
<text x="929.1" y="458.6" font-size="17.6" fill="#808080" textLength="40.2" lengthAdjust="spacingAndGlyphs">18th</text>
<text x="1011.4" y="401" text-anchor="end" font-size="10.5" fill="#a0a0a0" textLength="118.4" lengthAdjust="spacingAndGlyphs">www.seabreeze.com.au</text>
<use href="#sun" x="129.4" y="94.0"/><g transform="translate(138.0,98.0) scale(0.935,0.945)"><use href="#cloud"/></g><use href="#drop" x="125.2" y="105.1"/><use href="#drop" x="138.7" y="104.8"/><use href="#drop" x="152.9" y="105.3"/><use href="#drop" x="131.7" y="114.7"/><use href="#drop" x="145.5" y="114.7"/>
<use href="#sun" x="266.0" y="94.2"/><g transform="translate(274.7,99.5) scale(0.935,0.945)"><use href="#cloud"/></g>
<use href="#sun" x="402.5" y="94.0"/><g transform="translate(411.1,98.0) scale(0.935,0.945)"><use href="#cloud"/></g><use href="#drop" x="398.3" y="105.1"/><use href="#drop" x="411.8" y="104.8"/><use href="#drop" x="426.0" y="105.3"/><use href="#drop" x="404.8" y="114.7"/><use href="#drop" x="418.6" y="114.7"/>
<path fill="#f8cc1c" transform="translate(522.0,97.5)" d="M-2.8,-5.5 L2.8,-5 L2,5.5 L-0.8,0 Z"/><path fill="#f8cc1c" transform="translate(555.5,105.5)" d="M-2.8,-5.5 L2.8,-5 L2,5.5 L-0.8,0 Z"/><g transform="translate(528.5,82.0) scale(0.820,0.820)"><use href="#cloud"/></g><g transform="translate(548.0,90.5) scale(0.950,0.950)"><use href="#cloud"/></g><path fill="url(#boltG)" stroke="#e0a000" stroke-width="0.3" transform="translate(536.5,96.0)" d="M7.1,-20.5 L-3.9,0.8 L4.2,2.6 L-0.3,20.7 L13.3,-4.3 L4.9,-5.1 Z"/>
<use href="#sun" x="675.7" y="94.0"/><g transform="translate(684.3,98.0) scale(0.935,0.945)"><use href="#cloud"/></g><use href="#drop" x="671.5" y="105.1"/><use href="#drop" x="685.0" y="104.8"/><use href="#drop" x="699.2" y="105.3"/><use href="#drop" x="678.0" y="114.7"/><use href="#drop" x="691.8" y="114.7"/>
<path fill="#f8cc1c" transform="translate(795.1,97.5)" d="M-2.8,-5.5 L2.8,-5 L2,5.5 L-0.8,0 Z"/><path fill="#f8cc1c" transform="translate(828.6,105.5)" d="M-2.8,-5.5 L2.8,-5 L2,5.5 L-0.8,0 Z"/><g transform="translate(801.6,82.0) scale(0.820,0.820)"><use href="#cloud"/></g><g transform="translate(821.1,90.5) scale(0.950,0.950)"><use href="#cloud"/></g><path fill="url(#boltG)" stroke="#e0a000" stroke-width="0.3" transform="translate(809.6,96.0)" d="M7.1,-20.5 L-3.9,0.8 L4.2,2.6 L-0.3,20.7 L13.3,-4.3 L4.9,-5.1 Z"/>
<use href="#sun" x="948.8" y="94.0"/><g transform="translate(957.4,98.0) scale(0.935,0.945)"><use href="#cloud"/></g><use href="#drop" x="944.6" y="105.1"/><use href="#drop" x="958.1" y="104.8"/><use href="#drop" x="972.3" y="105.3"/><use href="#drop" x="951.1" y="114.7"/><use href="#drop" x="964.9" y="114.7"/>
</svg></body></html>
